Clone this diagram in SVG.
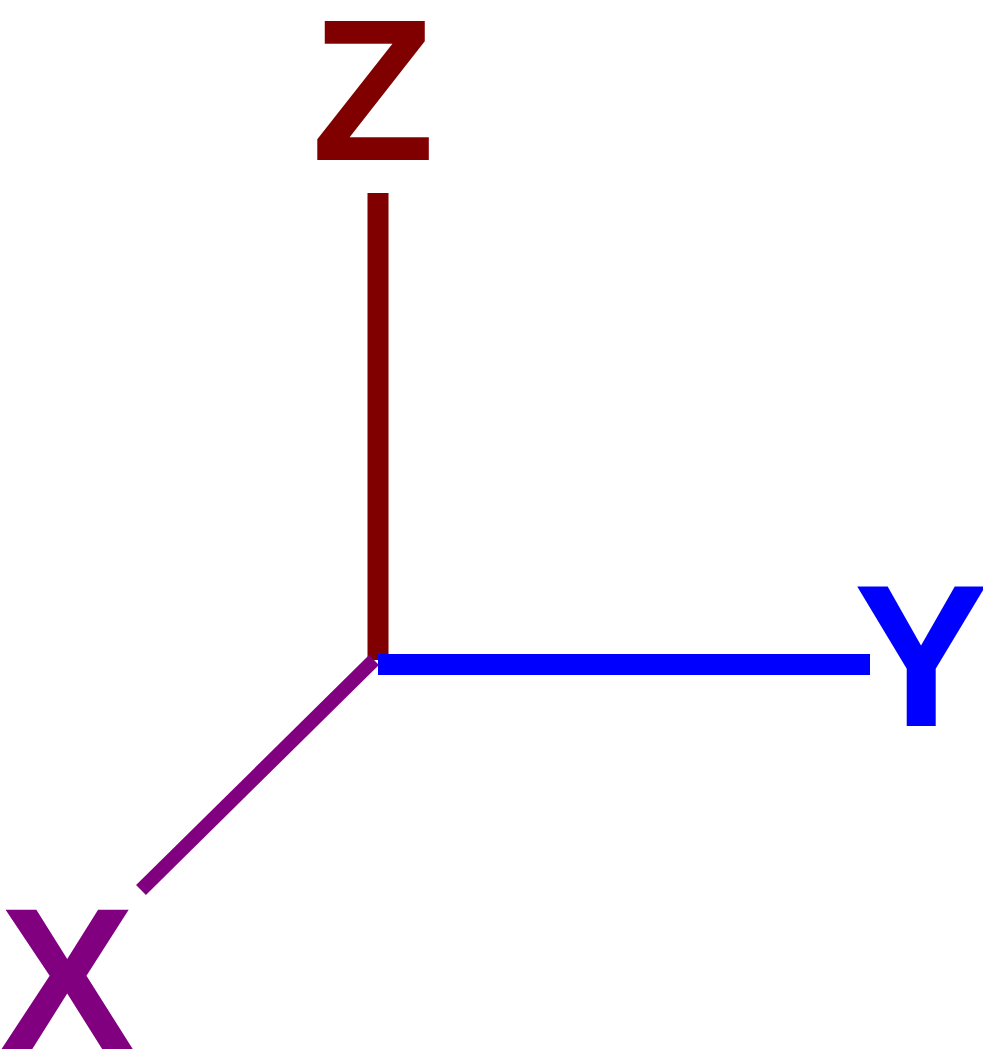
<svg xmlns="http://www.w3.org/2000/svg" width="983" height="1050" viewBox="0 0 983 1050">
<style>
.lbl{font-family:"Liberation Sans",Arial,sans-serif;font-weight:bold;font-size:202px;text-anchor:middle}
</style>
<rect width="983" height="1050" fill="#ffffff"/>
<g id="connectors">
<line x1="378" y1="193" x2="378" y2="660" stroke="#800000" stroke-width="21"/>
<line x1="378" y1="664.5" x2="870" y2="664.5" stroke="#0000ff" stroke-width="21"/>
<line x1="374" y1="660" x2="141" y2="890" stroke="#800080" stroke-width="14"/>
</g>
<g id="node-z"><text class="lbl" x="373" y="160" fill="#800000">Z</text></g>
<g id="node-y"><text class="lbl" x="921" y="726" fill="#0000ff">Y</text></g>
<g id="node-x"><text class="lbl" x="67" y="1049" fill="#800080">X</text></g>
</svg>
